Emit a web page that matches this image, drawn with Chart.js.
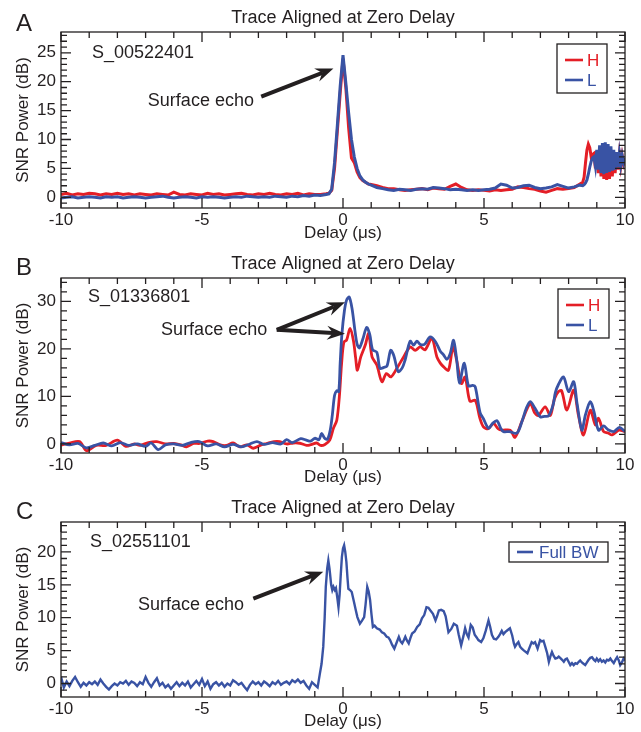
<!DOCTYPE html>
<html>
<head>
<meta charset="utf-8">
<script src="https://cdn.jsdelivr.net/npm/chart.js@4.4.0/dist/chart.umd.min.js"></script>
<style>
  html, body { margin: 0; padding: 0; background: #fff; }
  #wrap { position: relative; width: 641px; height: 732px; }
  canvas { position: absolute; left: 0; }
</style>
</head>
<body>
<div id="wrap">
  <canvas id="panelA" width="641" height="244" style="top:0"></canvas>
  <canvas id="panelB" width="641" height="244" style="top:244px"></canvas>
  <canvas id="panelC" width="641" height="244" style="top:488px"></canvas>
</div>
<script>
// ---- data (delay in µs, SNR power in dB) ----

const xTicks = [-10, -5, 0, 5, 10];
const yTicksA = [0, 5, 10, 15, 20, 25];
const yTicksB = [0, 10, 20, 30];
const yTicksC = [0, 5, 10, 15, 20];

// Panel A: S_00522401, H and L share the same delays
const delayA = [
  -10.0, -9.8, -9.6, -9.4, -9.2, -9.0, -8.8, -8.6, -8.4, -8.2,
  -8.0, -7.8, -7.6, -7.4, -7.2, -7.0, -6.8, -6.6, -6.4, -6.2,
  -6.0, -5.8, -5.6, -5.4, -5.2, -5.0, -4.8, -4.6, -4.4, -4.2,
  -4.0, -3.8, -3.6, -3.4, -3.2, -3.0, -2.8, -2.6, -2.4, -2.2,
  -2.0, -1.8, -1.6, -1.4, -1.2, -1.0, -0.8, -0.6,
  -0.5, -0.4, -0.3, -0.2, -0.1, 0.0, 0.1, 0.2, 0.3, 0.4,
  0.5, 0.6, 0.7, 0.8, 0.9,
  1.0, 1.2, 1.4, 1.6, 1.8, 2.0, 2.2, 2.4, 2.6, 2.8,
  3.0, 3.2, 3.4, 3.6, 3.8, 4.0, 4.2, 4.4, 4.6, 4.8,
  5.0, 5.2, 5.4, 5.6, 5.8, 6.0, 6.2, 6.4, 6.6, 6.8,
  7.0, 7.2, 7.4, 7.6, 7.8, 8.0, 8.2, 8.4,
  8.5, 8.55, 8.6, 8.65, 8.7, 8.75, 8.8, 8.85, 8.9, 8.95,
  9.0, 9.05, 9.1, 9.15, 9.2, 9.25, 9.3, 9.35, 9.4, 9.45,
  9.5, 9.55, 9.6, 9.65, 9.7, 9.75, 9.8, 9.85, 9.9, 9.95, 10.0
];
const snrAH = [
  0.5, 0.7, 0.4, 0.6, 0.5, 0.7, 0.6, 0.4, 0.6, 0.5,
  0.7, 0.5, 0.6, 0.4, 0.6, 0.5, 0.4, 0.6, 0.5, 0.4,
  0.9, 0.5, 0.4, 0.6, 0.5, 0.4, 0.7, 0.5, 0.6, 0.4,
  0.5, 0.6, 0.7, 0.5, 0.4, 0.6, 0.5, 0.7, 0.5, 0.4,
  0.6, 0.5, 0.7, 0.4, 0.6, 0.5, 0.5, 0.6,
  0.7, 1.2, 5.0, 11.5, 18.0, 24.0, 19.0, 12.0, 6.8, 6.0,
  4.4, 3.4, 2.9, 2.6, 2.3,
  2.2, 2.0, 1.7, 1.5, 1.5, 1.3, 1.2, 1.3, 1.4, 1.5,
  1.3, 1.6, 1.5, 1.4, 1.9, 2.3, 1.7, 1.3, 1.2, 1.3,
  1.2, 1.1, 1.3, 1.2, 1.3, 1.4, 1.8, 1.7, 1.5, 1.4,
  1.1, 0.9, 1.2, 1.5, 1.4, 1.5, 1.7, 2.3,
  2.6, 3.5, 6.0, 8.2, 9.2, 8.6, 7.0, 7.4, 7.6, 5.0,
  8.0, 4.2, 8.6, 3.6, 8.8, 3.2, 8.6, 3.0, 8.4, 3.2,
  8.0, 3.6, 7.8, 4.2, 7.6, 4.8, 7.4, 5.4, 7.2, 5.8, 6.6
];
const snrAL = [
  -0.1, 0.0, 0.1, -0.1, 0.0, 0.1, 0.0, -0.1, 0.1, 0.0,
  0.1, -0.1, 0.0, 0.1, 0.0, -0.1, 0.0, 0.1, 0.2, 0.0,
  -0.1, 0.0, 0.1, 0.0, -0.1, 0.1, 0.0, 0.1, 0.0, -0.1,
  0.0, 0.1, 0.0, 0.2, 0.1, 0.0, 0.1, 0.0, 0.2, 0.1,
  0.0, 0.2, 0.1, 0.3, 0.2, 0.4, 0.3, 0.5,
  0.6, 1.4, 6.0, 12.5, 19.2, 24.6, 19.8, 14.6, 10.0, 7.0,
  5.0, 3.7, 3.0, 2.6, 2.3,
  2.1, 1.7, 1.5, 1.3, 1.2, 1.4, 1.3, 1.2, 1.4, 1.5,
  1.4, 1.7, 1.6, 1.5, 1.3, 1.4, 1.3, 1.2, 1.3, 1.2,
  1.3, 1.4, 1.6, 2.3, 2.1, 1.6, 1.7, 2.0, 2.1, 1.7,
  1.5, 1.6, 1.8, 2.2, 1.9, 1.6, 1.8, 2.1,
  2.0, 2.2, 2.5, 3.0, 4.0, 5.2, 6.2, 6.8, 7.0, 5.4,
  8.2, 4.8, 9.0, 4.2, 9.4, 4.0, 9.5, 4.2, 9.2, 4.4,
  8.8, 4.6, 8.2, 4.8, 7.8, 5.2, 7.6, 5.6, 7.2, 6.0, 6.8
];

// Panel B: S_01336801
const delayBH = [
  -10, -9.7, -9.34, -9.1, -8.75, -8.4, -8.0, -7.7, -7.4, -7.2,
  -6.9, -6.6, -6.3, -6.0, -5.75, -5.55, -5.3, -5.08, -4.8, -4.6,
  -4.35, -4.13, -3.9, -3.66, -3.4, -3.18, -2.9, -2.71, -2.45, -2.24,
  -2.0, -1.76, -1.53, -1.29, -1.17, -0.93, -0.8, -0.64, -0.47, -0.34,
  -0.22, -0.13, -0.05, 0.03, 0.13, 0.25, 0.37, 0.45, 0.51, 0.63,
  0.79, 0.91, 1.03, 1.2, 1.38, 1.54, 1.7, 1.91, 2.15, 2.38,
  2.56, 2.74, 2.91, 3.15, 3.33, 3.45, 3.57, 3.74, 3.9, 4.03,
  4.2, 4.33, 4.5, 4.69, 4.85, 4.98, 5.15, 5.34, 5.5, 5.63,
  5.93, 6.1, 6.34, 6.64, 6.8, 6.93, 7.17, 7.35, 7.5, 7.64,
  7.75, 7.94, 8.18, 8.35, 8.53, 8.77, 8.95, 9.06, 9.24, 9.4,
  9.54, 9.78, 10.0
];
const snrBH = [
  -0.2, 0.2, 0.5, -1.4, -0.3, -0.3, 0.8, -0.5, 0.0, -0.3,
  0.3, 0.5, 0.0, 0.1, -0.2, -0.6, 0.1, 0.1, 0.6, 0.5,
  -0.2, -0.3, 0.2, -0.6, -0.2, -0.9, -0.2, 0.1, 0.5, 0.5,
  0.0, 0.2, 0.15, -0.3, -0.2, 0.2, -0.3, -0.1, 0.8, 3.3,
  5.0, 9.9, 16.9, 21.4, 21.9, 24.3, 21.7, 18.0, 15.5, 18.3,
  20.8, 23.2, 18.3, 16.6, 13.1, 14.8, 14.1, 15.9, 18.3, 20.4,
  19.7, 20.4, 19.8, 22.2, 18.3, 17.0, 16.2, 15.5, 20.4, 17.6,
  12.7, 14.1, 9.0, 9.2, 5.5, 3.6, 3.2, 4.3, 3.2, 2.9,
  2.9, 1.4, 4.7, 8.5, 6.5, 6.0, 7.8, 6.0, 9.5, 11.0,
  11.2, 7.1, 11.3, 6.0, 1.9, 7.1, 4.0, 5.4, 2.6, 2.3,
  1.9, 2.9, 2.6
];
const delayBL = [
  -10, -9.7, -9.4, -9.1, -8.8, -8.5, -8.2, -7.9, -7.6, -7.3,
  -7.0, -6.8, -6.55, -6.3, -6.0, -5.7, -5.4, -5.1, -4.8, -4.5,
  -4.2, -3.9, -3.6, -3.3, -3.05, -2.8, -2.5, -2.2, -2.0, -1.8,
  -1.5, -1.3, -1.15, -1.0, -0.85, -0.76, -0.65, -0.55, -0.45, -0.38,
  -0.3, -0.22, -0.15, -0.1, -0.04, 0.05, 0.13, 0.22, 0.32, 0.42,
  0.5, 0.58, 0.7, 0.84, 0.95, 1.05, 1.2, 1.31, 1.45, 1.56,
  1.69, 1.8, 1.96, 2.1, 2.2, 2.38, 2.5, 2.62, 2.75, 2.9,
  3.09, 3.28, 3.45, 3.56, 3.68, 3.8, 3.92, 4.03, 4.13, 4.3,
  4.45, 4.6, 4.69, 4.86, 4.98, 5.16, 5.3, 5.46, 5.6, 5.69,
  5.9, 6.17, 6.35, 6.5, 6.64, 6.8, 7.0, 7.15, 7.29, 7.45,
  7.53, 7.64, 7.82, 8.0, 8.18, 8.3, 8.47, 8.6, 8.77, 8.9,
  9.06, 9.24, 9.4, 9.6, 9.8, 10.0
];
const snrBL = [
  0.3, -0.2, 0.1, -0.8, -0.3, 0.2, -0.4, 0.3, -0.3, 0.0,
  -0.5, 0.2, -1.2, -0.2, 0.0, -0.3, 0.3, 0.5, -0.4, 0.0,
  -0.6, -0.1, -0.6, 0.0, 0.5, -0.1, 0.3, 0.0, 0.9, 0.3,
  1.1, 0.8, 0.6, 1.2, 0.9, 2.2, 1.2, 1.0, 3.0, 6.0,
  10.2, 11.2, 11.0, 17.0, 23.0, 28.0, 30.3, 30.9, 28.5, 24.0,
  21.0, 20.2, 22.0, 24.5, 23.0, 19.8, 19.3, 15.9, 16.1, 16.4,
  19.7, 18.6, 15.2, 16.0, 17.6, 21.6, 20.8, 21.6, 20.9, 21.0,
  22.5, 21.5, 19.5, 18.8, 17.8, 19.0, 21.8, 17.8, 12.8, 17.0,
  12.2, 12.3, 12.0, 6.6, 5.3, 3.3, 4.3, 4.9, 3.2, 2.6,
  2.6, 2.3, 4.8, 7.5, 8.9, 7.6, 5.7, 5.8, 5.9, 8.2,
  10.8, 12.5, 14.1, 11.0, 13.1, 8.5, 2.9, 6.2, 8.9, 6.8,
  2.9, 3.8, 3.0, 2.6, 3.5, 2.6
];

// Panel C: S_02551101, full bandwidth
const delayC = [
  -10.0, -9.9, -9.8, -9.7, -9.6, -9.5, -9.4, -9.3, -9.2, -9.1,
  -9.0, -8.9, -8.8, -8.7, -8.6, -8.5, -8.4, -8.3, -8.2, -8.1,
  -8.0, -7.9, -7.8, -7.7, -7.6, -7.5, -7.4, -7.3, -7.2, -7.1,
  -7.0, -6.9, -6.8, -6.7, -6.6, -6.5, -6.4, -6.3, -6.2, -6.1,
  -6.0, -5.9, -5.8, -5.7, -5.6, -5.5, -5.4, -5.3, -5.2, -5.1,
  -5.0, -4.9, -4.8, -4.7, -4.6, -4.5, -4.4, -4.3, -4.2, -4.1,
  -4.0, -3.9, -3.8, -3.7, -3.6, -3.5, -3.4, -3.3, -3.2, -3.1,
  -3.0, -2.9, -2.8, -2.7, -2.6, -2.5, -2.4, -2.3, -2.2, -2.1,
  -2.0, -1.9, -1.8, -1.7, -1.6, -1.5, -1.4, -1.3, -1.2, -1.1,
  -1.0, -0.9,
  -0.82, -0.76, -0.7, -0.65, -0.61, -0.56, -0.52, -0.48, -0.46, -0.42,
  -0.38, -0.34, -0.29, -0.25, -0.2, -0.16, -0.12, -0.08, -0.04, 0.0,
  0.04, 0.08, 0.12, 0.16, 0.19, 0.25, 0.31, 0.39, 0.45, 0.51,
  0.6, 0.68, 0.75, 0.8, 0.86, 0.91, 0.96, 1.01, 1.06, 1.12,
  1.2, 1.3, 1.38, 1.46, 1.55, 1.61, 1.67, 1.74, 1.82, 1.9,
  1.98, 2.04, 2.1, 2.16, 2.21, 2.27, 2.33, 2.39, 2.45, 2.54,
  2.63, 2.72, 2.8, 2.88, 2.96, 3.03, 3.1, 3.19, 3.28, 3.34,
  3.4, 3.48, 3.57, 3.64, 3.74, 3.84, 3.93, 4.04, 4.1, 4.19,
  4.27, 4.33, 4.39, 4.45, 4.53, 4.6, 4.67, 4.74, 4.8, 4.9,
  4.98, 5.06, 5.16, 5.22, 5.28, 5.35, 5.43, 5.51, 5.57, 5.63,
  5.69, 5.75, 5.83, 5.92, 6.0, 6.06, 6.1, 6.16, 6.22, 6.28,
  6.34, 6.42, 6.54, 6.6, 6.69, 6.75, 6.81, 6.9, 6.99, 7.05,
  7.11, 7.18, 7.24, 7.3, 7.36, 7.41, 7.47, 7.53, 7.6, 7.65,
  7.7, 7.77, 7.83, 7.89, 7.94, 8.0, 8.06, 8.12, 8.18, 8.24,
  8.3, 8.36, 8.41, 8.47, 8.53, 8.59, 8.65, 8.71, 8.77, 8.83,
  8.9, 8.95, 9.0, 9.06, 9.12, 9.18, 9.24, 9.3, 9.36, 9.42,
  9.48, 9.54, 9.6, 9.66, 9.72, 9.78, 9.83, 9.89, 9.95, 10.0
];
const snrC = [
  1.0, -0.6, 0.3, -0.4, 0.4, 1.0, 0.2, -0.5, 0.1, -0.3,
  0.2, -0.1, 0.3, -0.2, 0.6, 0.0, -0.5, -0.9, -0.4, 0.0,
  -0.3, 0.2, 0.0, 0.4, -0.2, 0.3, 0.1, -0.4, 0.2, -0.1,
  1.0, 0.1, -0.5, 0.2, 0.8, -0.3, 0.1, -0.6, -0.2, -0.8,
  -0.3, 0.2, -0.4, 0.1, -0.3, 0.3, -0.6, -0.1, 0.4, -0.2,
  0.7, -0.4, 0.3, -0.8, -0.1, 0.2, -0.3, 0.1, -0.5, 0.0,
  -0.3, 0.5, 0.2, -0.2, 0.1, -0.5, -1.0, -0.2, 0.3, -0.1,
  0.2, -0.3, 0.3, 0.0, -0.4, 0.2, -0.1, 0.4, -0.2, 0.1,
  0.3, -0.1, 0.5, 0.2, 0.6, 0.1, 0.4, -0.3, -0.8, 0.2,
  -0.2, -0.6,
  1.5, 3.0, 5.6, 10.0, 14.7, 17.5, 18.7, 17.5, 16.7, 15.0,
  14.2, 14.7, 14.2, 14.5, 13.0, 11.6, 13.5, 16.5, 19.2, 20.5,
  21.0, 20.0, 18.5, 16.0, 14.4, 14.2, 13.9, 12.4, 11.2, 10.1,
  9.1, 9.6, 10.1, 12.0, 14.7, 14.0, 12.7, 10.5, 8.6, 8.8,
  8.4, 8.2, 7.8, 7.6, 7.1, 7.0, 6.6, 5.9, 5.3, 6.2,
  7.1, 6.4, 6.1, 6.6, 7.1, 6.5, 6.1, 6.9, 7.6, 7.9,
  8.6, 9.0, 9.9, 10.4, 11.6, 11.5, 11.1, 10.6, 9.6, 10.3,
  11.1, 11.2, 11.0, 10.2, 7.8, 8.3, 9.1, 8.8, 7.5, 5.8,
  7.2, 8.4, 7.5, 7.0, 8.9, 8.5, 7.4, 7.0, 6.6, 6.3,
  6.9, 8.0, 9.6, 8.6, 7.4, 6.8, 6.7, 7.1, 7.5, 8.0,
  7.5, 7.8, 8.1, 8.4, 7.3, 6.1, 5.6, 6.0, 6.3, 5.6,
  5.3, 5.0, 4.6, 5.3, 6.3, 6.1, 6.3, 5.3, 6.6, 6.4,
  6.5, 5.5, 4.6, 3.3, 4.2, 4.8, 4.2, 3.8, 3.9, 4.1,
  3.9, 3.6, 3.3, 3.7, 3.8, 3.3, 2.8, 3.1, 2.8, 3.1,
  3.0, 3.3, 3.5, 3.2, 3.0, 2.8, 3.2, 3.6, 3.9, 4.0,
  3.6, 3.4, 3.8, 3.4, 3.7, 3.3, 3.5, 3.2, 3.6, 3.5,
  3.8, 3.4, 3.1, 3.6, 4.0, 3.5, 2.8, 3.2, 3.8, 3.5
];

// ---- styling ----
const INK = '#231f20';
const RED = '#e41e26';
const BLUE = '#3953a4';
const FONT = "'Liberation Sans', Arial, Helvetica, sans-serif";

Chart.defaults.font.family = FONT;
Chart.defaults.font.size = 17;
Chart.defaults.color = INK;

// Draws an arrow with a swept-back filled head, from (x0,y0) to the tip (x1,y1)
function drawArrow(ctx, x0, y0, x1, y1) {
  const ang = Math.atan2(y1 - y0, x1 - x0);
  const c = Math.cos(ang), s = Math.sin(ang);
  const head = 18, half = 7, notch = 6;
  ctx.lineWidth = 4;
  ctx.beginPath();
  ctx.moveTo(x0, y0);
  ctx.lineTo(x1 - (head - notch) * c, y1 - (head - notch) * s);
  ctx.stroke();
  const bx = x1 - head * c, by = y1 - head * s;
  ctx.beginPath();
  ctx.moveTo(x1, y1);
  ctx.lineTo(bx - half * s, by + half * c);
  ctx.lineTo(x1 - (head - notch) * c, y1 - (head - notch) * s);
  ctx.lineTo(bx + half * s, by - half * c);
  ctx.closePath();
  ctx.fill();
}

// Frame, inward ticks on all four sides, titles, notes and the boxed legend
const panelDecor = {
  id: 'panelDecor',
  afterDatasetsDraw(chart, args, opts) {
    const { ctx, chartArea: a, scales: { x, y } } = chart;
    ctx.save();
    ctx.strokeStyle = INK;
    ctx.lineWidth = 1.3;
    ctx.strokeRect(a.left, a.top, a.right - a.left, a.bottom - a.top);

    ctx.beginPath();
    for (let v = -10; v <= 10; v += 1) {
      const px = x.getPixelForValue(v);
      const len = v % 5 === 0 ? 10 : 6;
      ctx.moveTo(px, a.bottom); ctx.lineTo(px, a.bottom - len);
      ctx.moveTo(px, a.top); ctx.lineTo(px, a.top + len);
    }
    for (let v = opts.yMinorFrom; v < y.max; v += opts.yMinorStep) {
      if (v <= y.min) continue;
      const py = y.getPixelForValue(v);
      const len = v % opts.yMajorStep === 0 ? 10 : 6;
      ctx.moveTo(a.left, py); ctx.lineTo(a.left + len, py);
      ctx.moveTo(a.right, py); ctx.lineTo(a.right - len, py);
    }
    ctx.stroke();
    ctx.restore();
  },
  afterDraw(chart, args, opts) {
    const { ctx, chartArea: a, scales: { x, y } } = chart;
    ctx.save();
    ctx.fillStyle = INK;
    ctx.strokeStyle = INK;

    // panel letter and title
    ctx.font = '24px ' + FONT;
    ctx.textAlign = 'left';
    ctx.textBaseline = 'alphabetic';
    ctx.fillText(opts.letter, 16, 31);
    ctx.font = '18px ' + FONT;
    ctx.textAlign = 'center';
    ctx.textBaseline = 'middle';
    ctx.fillText('Trace Aligned at Zero Delay', (a.left + a.right) / 2, a.top - 14);

    // sounding id and surface echo note
    ctx.textAlign = 'left';
    ctx.fillText(opts.sample, x.getPixelForValue(opts.sampleAt[0]), y.getPixelForValue(opts.sampleAt[1]));
    ctx.fillText('Surface echo', x.getPixelForValue(opts.echoAt[0]), y.getPixelForValue(opts.echoAt[1]));
    opts.arrows.forEach(ar => {
      drawArrow(ctx,
        x.getPixelForValue(ar[0]), y.getPixelForValue(ar[1]),
        x.getPixelForValue(ar[2]), y.getPixelForValue(ar[3]));
    });

    // legend box
    const lg = opts.legend;
    const bx = a.right - lg.right - lg.w, by = a.top + lg.top;
    ctx.fillStyle = '#fff';
    ctx.fillRect(bx, by, lg.w, lg.h);
    ctx.lineWidth = 1.3;
    ctx.strokeRect(bx, by, lg.w, lg.h);
    ctx.font = lg.size + 'px ' + FONT;
    chart.data.datasets.slice().reverse().forEach((ds, i) => {
      const cy = by + lg.row0 + i * lg.rowGap;
      ctx.strokeStyle = ds.borderColor;
      ctx.lineWidth = 2.6;
      ctx.beginPath();
      ctx.moveTo(bx + 8, cy);
      ctx.lineTo(bx + 8 + lg.lineLen, cy);
      ctx.stroke();
      ctx.fillStyle = ds.borderColor;
      ctx.fillText(ds.label, bx + lg.textX, cy + 1);
    });
    ctx.restore();
  }
};

function toPoints(delays, values) {
  return delays.map((d, i) => ({ x: d, y: values[i] }));
}

function makePanel(cfg) {
  const canvas = document.getElementById(cfg.id);
  new Chart(canvas, {
    type: 'line',
    data: {
      // first dataset is drawn on top; legend lists them in reverse
      datasets: cfg.series.map(s => ({
        label: s.label,
        data: toPoints(s.delay, s.snr),
        borderColor: s.color,
        borderWidth: s.width,
        pointRadius: 0,
        tension: s.tension,
        fill: false
      }))
    },
    options: {
      responsive: false,
      animation: false,
      layout: { padding: { top: cfg.padTop, right: 16, left: 0, bottom: 0 } },
      plugins: {
        legend: { display: false },
        tooltip: { enabled: false },
        panelDecor: cfg
      },
      scales: {
        x: {
          type: 'linear',
          min: -10,
          max: 10,
          afterBuildTicks: scale => { scale.ticks = xTicks.map(v => ({ value: v })); },
          afterFit: scale => { scale.height = cfg.xHeight; },
          grid: { display: false, drawTicks: false },
          border: { display: false },
          ticks: { padding: 2, autoSkip: false, maxRotation: 0 },
          title: { display: true, text: 'Delay (μs)', padding: { top: 0, bottom: 0 } }
        },
        y: {
          min: cfg.yMin,
          max: cfg.yMax,
          afterBuildTicks: scale => { scale.ticks = cfg.yTicks.map(v => ({ value: v })); },
          afterFit: scale => { scale.width = 61; },
          grid: { display: false, drawTicks: false },
          border: { display: false },
          ticks: { padding: 5 },
          title: { display: true, text: 'SNR Power (dB)', padding: { top: 13, bottom: 0 } }
        }
      }
    },
    plugins: [panelDecor]
  });
}

makePanel({
  id: 'panelA', letter: 'A', sample: 'S_00522401',
  yMin: -1.85, yMax: 28.6, yTicks: yTicksA, yMinorFrom: -1, yMinorStep: 1, yMajorStep: 5,
  padTop: 32, xHeight: 36,
  series: [
    { label: 'L', delay: delayA, snr: snrAL, color: BLUE, width: 3, tension: 0 },
    { label: 'H', delay: delayA, snr: snrAH, color: RED, width: 3, tension: 0 }
  ],
  sampleAt: [-8.9, 24.9], echoAt: [-6.92, 16.7],
  arrows: [[-2.9, 17.4, -0.34, 22.3]],
  legend: { top: 12, right: 18, w: 50, h: 49, row0: 16, rowGap: 20, lineLen: 18, textX: 30, size: 17 }
});

makePanel({
  id: 'panelB', letter: 'B', sample: 'S_01336801',
  yMin: -1.9, yMax: 34.9, yTicks: yTicksB, yMinorFrom: 0, yMinorStep: 2, yMajorStep: 10,
  padTop: 34, xHeight: 35,
  series: [
    { label: 'L', delay: delayBL, snr: snrBL, color: BLUE, width: 2.8, tension: 0.3 },
    { label: 'H', delay: delayBH, snr: snrBH, color: RED, width: 2.8, tension: 0.3 }
  ],
  sampleAt: [-9.04, 31.0], echoAt: [-6.45, 23.9],
  arrows: [[-2.35, 24.0, 0.07, 29.8], [-2.35, 24.0, 0.07, 23.2]],
  legend: { top: 11, right: 16, w: 51, h: 49, row0: 16, rowGap: 20, lineLen: 18, textX: 30, size: 17 }
});

makePanel({
  id: 'panelC', letter: 'C', sample: 'S_02551101',
  yMin: -2.05, yMax: 24.55, yTicks: yTicksC, yMinorFrom: -1, yMinorStep: 1, yMajorStep: 5,
  padTop: 34, xHeight: 35,
  series: [
    { label: 'Full BW', delay: delayC, snr: snrC, color: BLUE, width: 2.4, tension: 0 }
  ],
  sampleAt: [-8.97, 21.5], echoAt: [-7.27, 11.9],
  arrows: [[-3.18, 12.9, -0.7, 17.0]],
  legend: { top: 20, right: 17, w: 99, h: 20, row0: 10, rowGap: 20, lineLen: 16, textX: 30, size: 17 }
});
</script>
</body>
</html>
